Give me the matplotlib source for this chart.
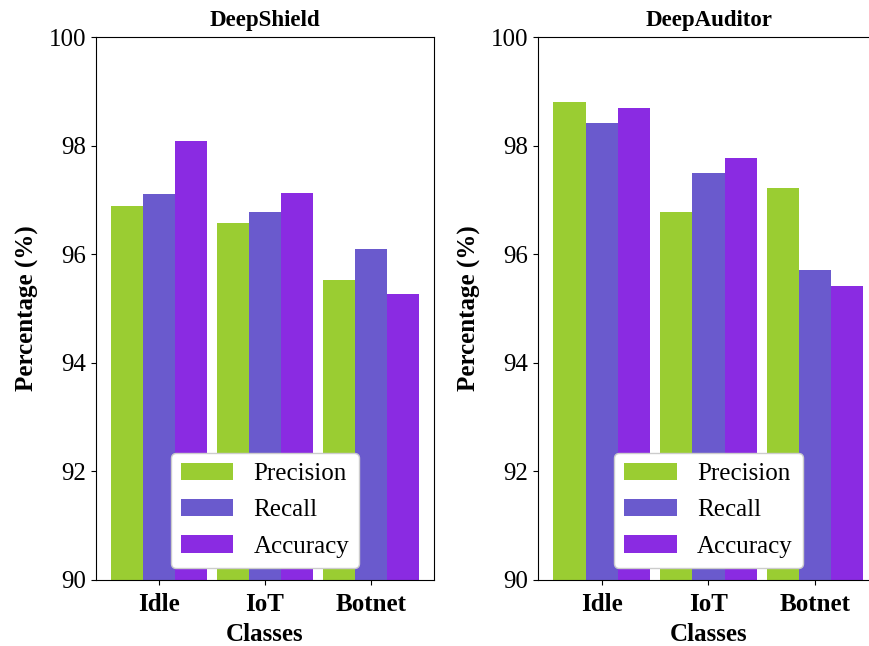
import matplotlib
matplotlib.use("Agg")
import matplotlib.pyplot as plt
import numpy as np

plt.rcParams['font.family'] = ['Liberation Serif', 'DejaVu Serif']
plt.rcParams['mathtext.fontset'] = 'stix'

classes = ["Idle", "IoT", "Botnet"]
metrics = ["Precision", "Recall", "Accuracy"]
colors = ["#9acd32", "#6a5acd", "#8a2be2"]

deepshield_precision = [96.89, 96.57, 95.52]
deepshield_recall = [97.11, 96.78, 96.09]
deepshield_accuracy = [98.09, 97.13, 95.26]

deepauditor_precision = [98.81, 96.78, 97.22]
deepauditor_recall = [98.41, 97.50, 95.70]
deepauditor_accuracy = [98.70, 97.78, 95.41]

panels = [
    ("DeepShield", [deepshield_precision, deepshield_recall, deepshield_accuracy]),
    ("DeepAuditor", [deepauditor_precision, deepauditor_recall, deepauditor_accuracy]),
]

fig = plt.figure(figsize=(8.7, 6.46), dpi=100)
ax_positions = [
    [95.7 / 870, 1 - 580 / 646, 338.5 / 870, (580 - 37) / 646],
    [538 / 870, 1 - 580 / 646, 341 / 870, (580 - 37) / 646],
]

fs = 18
width = 0.3
x = np.arange(len(classes))

for pos, (title, series) in zip(ax_positions, panels):
    ax = fig.add_axes(pos)
    for i, (vals, name, c) in enumerate(zip(series, metrics, colors)):
        ax.bar(x + (i - 1) * width, vals, width, color=c, label=name)
    ax.set_ylim(90, 100)
    ax.set_yticks([90, 92, 94, 96, 98, 100])
    ax.set_xticks(x)
    ax.set_xticklabels(classes, fontweight='bold', fontsize=fs)
    ax.tick_params(axis='y', labelsize=fs)
    ax.tick_params(axis='x', pad=6)
    ax.set_title(title, fontweight='bold', fontsize=16.5, pad=8)
    ax.set_xlabel("Classes", fontweight='bold', fontsize=fs, labelpad=5)
    ax.set_ylabel("Percentage (%)", fontweight='bold', fontsize=fs, labelpad=7)
    ax.legend(loc='lower center', fontsize=fs, handlelength=2.1,
              labelspacing=0.55, framealpha=1)

fig.savefig("out.png", dpi=100)
